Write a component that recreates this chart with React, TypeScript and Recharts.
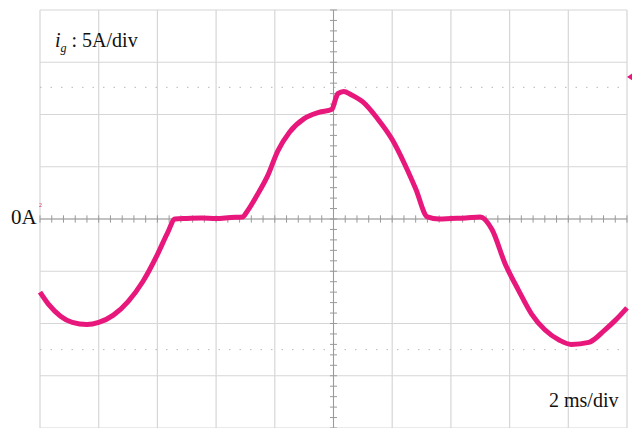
import React from "react";
import { LineChart, Line, XAxis, YAxis, CartesianGrid, ReferenceLine, ReferenceDot } from "recharts";

// grid current i_g, 2 ms/div horizontally, 5 A/div vertically
const timeMs = [
  0, 0.3, 0.7, 1.1, 1.6, 2.0, 2.5, 3.0, 3.5, 4.0, 4.35, 4.6,
  5.0, 5.5, 6.0, 6.5, 6.9, 7.05, 7.4, 7.75, 8.1, 8.5, 9.0, 9.5, 9.95,
  10.05, 10.15, 10.35, 10.6, 11.0, 11.5, 12.0, 12.45, 12.8, 13.2,
  13.6, 14.0, 14.5, 15.0, 15.4, 15.85, 16.3, 16.75, 17.2, 17.7, 18.1,
  18.7, 19.25, 19.6, 20,
];
const currentA = [
  -7.0, -8.2, -9.3, -9.9, -10.1, -9.9, -9.2, -7.9, -6.0, -3.4, -1.3, 0,
  0.05, 0.1, 0.05, 0.15, 0.2, 0.7, 2.3, 4.1, 6.5, 8.3, 9.6, 10.2, 10.5,
  11.3, 12.0, 12.2, 11.9, 11.2, 9.6, 7.6, 5.1, 2.9, 0.2,
  0.0, 0.05, 0.1, 0.2, -1.0, -4.3, -6.8, -9.1, -10.6, -11.6, -12.0,
  -11.8, -10.6, -9.7, -8.5,
];

const divTicksX = [0, 2, 4, 6, 8, 10, 12, 14, 16, 18, 20];
const divTicksY = [-20, -15, -10, -5, 0, 5, 10, 15, 20];
const minorX = Array.from({ length: 51 }, (_, i) => i * 0.4);
const minorY = Array.from({ length: 41 }, (_, i) => i - 20);
const cursorLevels = [12.6, -12.5];

const data = timeMs.map((t, i) => ({ t, ig: currentA[i] }));

const serif = '"Liberation Serif", "DejaVu Serif", serif';

const TriggerMark = (props: any) => {
  const { cx, cy } = props;
  return <polygon points={`${cx},${cy} ${cx + 6},${cy - 4} ${cx + 6},${cy + 4}`} fill="#e8177c" />;
};

export default function App() {
  return (
    <div style={{ position: "absolute", left: 0, top: 0, width: 632, height: 428, background: "#fff", overflow: "hidden" }}>
      <LineChart width={632} height={429} data={data} margin={{ top: 10, right: 5, bottom: 1, left: 40 }}>
        <XAxis dataKey="t" type="number" domain={[0, 20]} ticks={divTicksX} hide />
        <YAxis type="number" domain={[-20, 20]} ticks={divTicksY} hide />
        <CartesianGrid stroke="#d6d6d6" strokeWidth={1.2} />
        {cursorLevels.map((v) => (
          <ReferenceLine key={`c${v}`} y={v} stroke="#b8b8b8" strokeDasharray="1.5 9" />
        ))}
        <ReferenceLine x={10} stroke="#9a9a9a" />
        <ReferenceLine y={0} stroke="#9a9a9a" />
        {minorX.map((t) => (
          <ReferenceLine key={`mx${t}`} segment={[{ x: t, y: -0.35 }, { x: t, y: 0.35 }]} stroke="#9a9a9a" />
        ))}
        {minorY.map((v) => (
          <ReferenceLine key={`my${v}`} segment={[{ x: 9.88, y: v }, { x: 10.12, y: v }]} stroke="#9a9a9a" />
        ))}
        <Line
          type="monotone"
          dataKey="ig"
          stroke="#e8177c"
          strokeWidth={5}
          dot={false}
          isAnimationActive={false}
        />
        <ReferenceDot x={20} y={13.6} r={3} ifOverflow="visible" shape={TriggerMark} />
      </LineChart>
      <div style={{ position: "absolute", left: 55, top: 29, fontFamily: serif, fontSize: 20, color: "#111", whiteSpace: "nowrap" }}>
        <i>i</i>
        <sub style={{ fontSize: 12, fontStyle: "italic" }}>g</sub>
        <span> : 5A/div</span>
      </div>
      <div style={{ position: "absolute", left: 11, top: 205, fontFamily: serif, fontSize: 21, color: "#111" }}>0A</div>
      <div style={{ position: "absolute", left: 39, top: 202, fontFamily: serif, fontSize: 6, color: "#e8177c" }}>2</div>
      <div style={{ position: "absolute", left: 549, top: 389, fontFamily: serif, fontSize: 20, color: "#111", whiteSpace: "nowrap" }}>
        2 ms/div
      </div>
    </div>
  );
}
